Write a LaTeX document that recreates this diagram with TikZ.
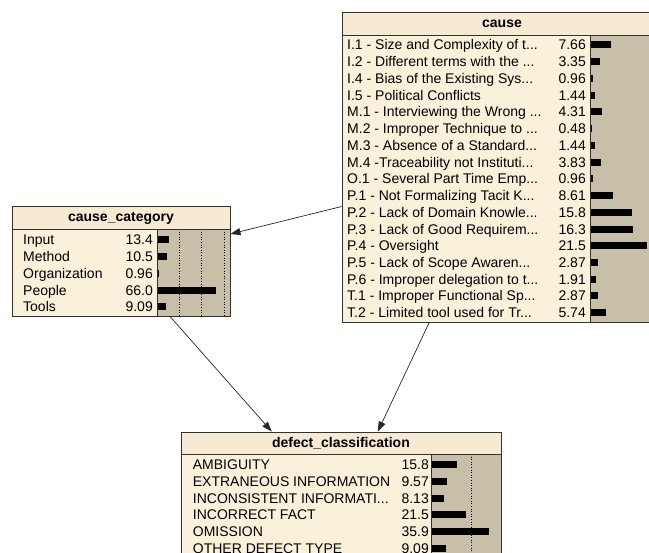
\documentclass[tikz,border=0pt]{standalone}
\usepackage{fontspec}
\setmainfont{Liberation Sans}
\usetikzlibrary{arrows.meta}
\newcommand{\tdots}{...}
\definecolor{titlefill}{RGB}{246,235,210}
\definecolor{bodyfill}{RGB}{250,241,218}
\definecolor{barfill}{RGB}{200,191,169}
\definecolor{boxline}{RGB}{50,50,50}
\tikzset{
  boxframe/.style={draw=boxline, line width=0.9pt, minimum width=#1, inner sep=0pt},
  rowlab/.style={anchor=base west, inner sep=0pt, font=\fontsize{14}{16}\selectfont},
  rowval/.style={anchor=base east, inner sep=0pt, font=\fontsize{14}{16}\selectfont},
  boxtitle/.style={inner sep=0pt, font=\fontsize{14}{16}\selectfont\bfseries},
  divline/.style={draw=boxline, line width=0.9pt},
  gridline/.style={draw=black, line width=0.6pt, dotted},
  link/.style={draw=black!85, line width=0.7pt, -{Triangle[length=10pt,width=7pt]}}
}
\begin{document}
\begin{tikzpicture}[x=1pt,y=-1pt]
\useasboundingbox (0,0) rectangle (649,553);
\clip (0,0) rectangle (649,553);

% ---------- cause ----------
\fill[titlefill] (342,12) rectangle (662,35);
\fill[bodyfill] (342,35) rectangle (590.5,322);
\fill[barfill] (590.5,35) rectangle (662,322);
\node[boxtitle] (causetitle) at (502,24) {cause};
\foreach \lab/\val [count=\i from 0] in {
  I.1 - Size and Complexity of t\tdots/7.66,
  I.2 - Different terms with the \tdots/3.35,
  I.4 - Bias of the Existing Sys\tdots/0.96,
  I.5 - Political Conflicts/1.44,
  M.1 - Interviewing the Wrong \tdots/4.31,
  M.2 - Improper Technique to \tdots/0.48,
  M.3 - Absence of a Standard\tdots/1.44,
  M.4 -Traceability not Instituti\tdots/3.83,
  O.1 - Several Part Time Emp\tdots/0.96,
  P.1 - Not Formalizing Tacit K\tdots/8.61,
  P.2 - Lack of Domain Knowle\tdots/15.8,
  P.3 - Lack of Good Requirem\tdots/16.3,
  P.4 - Oversight/21.5,
  P.5 - Lack of Scope Awaren\tdots/2.87,
  P.6 - Improper delegation to t\tdots/1.91,
  T.1 - Improper Functional Sp\tdots/2.87,
  T.2 - Limited tool used for Tr\tdots/5.74}{
  \pgfmathsetmacro{\yy}{45+16.73*\i}
  \node[rowlab] (cl\i) at (347,\yy+5) {\lab};
  \node[rowval] (cv\i) at (586,\yy+5) {\val};
  \fill[black] (591,\yy-3.5) rectangle ++({\val*2.6},7);
}
\draw[divline] (342,35) -- (662,35);
\draw[divline] (590.5,35) -- (590.5,322);
\node[boxframe=320pt, minimum height=310pt] (cause) at (502,167) {};

% ---------- cause_category ----------
\fill[titlefill] (12,206) rectangle (230,229);
\fill[bodyfill] (12,229) rectangle (157,316);
\fill[barfill] (157,229) rectangle (230,316);
\foreach \gx in {179.3,201.5,223.8}{
  \draw[gridline] (\gx,229) -- (\gx,316);
}
\node[boxtitle] (cattitle) at (121,218) {cause\_category};
\foreach \lab/\val [count=\i from 0] in {
  Input/13.4, Method/10.5, Organization/0.96, People/66.0, Tools/9.09}{
  \pgfmathsetmacro{\yy}{240+16.67*\i}
  \node[rowlab] (kl\i) at (23,\yy+5) {\lab};
  \node[rowval] (kv\i) at (153,\yy+5) {\val};
  \fill[black] (157.5,\yy-3.5) rectangle ++({\val*0.89},7);
}
\draw[divline] (12,229) -- (230,229);
\draw[divline] (157,229) -- (157,316);
\node[boxframe=218pt, minimum height=110pt] (category) at (121,261) {};

% ---------- defect_classification ----------
\fill[titlefill] (181,432) rectangle (501,454);
\fill[bodyfill] (181,454) rectangle (431,588);
\fill[barfill] (431,454) rectangle (501,588);
\draw[gridline] (471,454) -- (471,588);
\node[boxtitle] (deftitle) at (341,443.5) {defect\_classification};
\foreach \lab/\val [count=\i from 0] in {
  AMBIGUITY/15.8,
  EXTRANEOUS INFORMATION/9.57,
  INCONSISTENT INFORMATI\tdots/8.13,
  INCORRECT FACT/21.5,
  OMISSION/35.9,
  OTHER DEFECT TYPE/9.09}{
  \pgfmathsetmacro{\yy}{464.7+16.7*\i}
  \node[rowlab] (dl\i) at (192.7,\yy+5) {\lab};
  \node[rowval] (dv\i) at (429,\yy+5) {\val};
  \fill[black] (431.5,\yy-3.5) rectangle ++({\val*1.59},7);
}
\draw[divline] (181,454) -- (501,454);
\draw[divline] (431,454) -- (431,588);
\node[boxframe=320pt, minimum height=156pt] (defect) at (341,510) {};

% ---------- links ----------
\draw[link] (cause) -- (category);
\draw[link] (category) -- (defect);
\draw[link] (cause) -- (defect);
\end{tikzpicture}
\end{document}
